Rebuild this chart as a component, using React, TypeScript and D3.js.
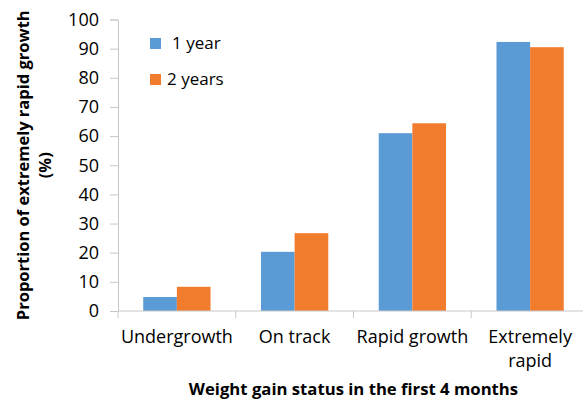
import React, { useEffect, useRef } from 'react';
import * as d3 from 'd3';

const categories = ['Undergrowth', 'On track', 'Rapid growth', 'Extremely rapid'];
const seriesNames = ['1 year', '2 years'];
const oneYear = [4.8, 20.3, 61.0, 92.3];
const twoYears = [8.3, 26.7, 64.4, 90.5];
const yTicks = [0, 10, 20, 30, 40, 50, 60, 70, 80, 90, 100];
const colors = ['#5B9BD5', '#F27C2E'];

const FONT = 'Open Sans, sans-serif';

const App: React.FC = () => {
  const svgRef = useRef<SVGSVGElement | null>(null);

  useEffect(() => {
    const svg = d3.select(svgRef.current!);
    svg.selectAll('*').remove();

    const left = 118;
    const right = 589;
    const top = 19.5;
    const bottom = 311;

    const x = d3.scaleBand<string>().domain(categories).range([left, right]).padding(0);
    const xSub = d3
      .scaleBand<string>()
      .domain(seriesNames)
      .range([0, x.bandwidth()])
      .paddingInner(0)
      .paddingOuter(0.75);
    const y = d3.scaleLinear().domain([0, 100]).range([bottom, top]);

    const rows = categories.map((c, i) => ({ cat: c, vals: [oneYear[i], twoYears[i]] }));

    // bars
    const groups = svg
      .selectAll('g.cat')
      .data(rows)
      .enter()
      .append('g')
      .attr('class', 'cat')
      .attr('transform', (d) => `translate(${x(d.cat)},0)`);

    groups
      .selectAll('rect')
      .data((d) => d.vals.map((v, j) => ({ v, s: seriesNames[j], j })))
      .enter()
      .append('rect')
      .attr('x', (d) => xSub(d.s) as number)
      .attr('y', (d) => y(d.v))
      .attr('width', xSub.bandwidth())
      .attr('height', (d) => bottom - y(d.v))
      .attr('fill', (d) => colors[d.j]);

    // y axis
    const yAxis = d3.axisLeft(y).tickValues(yTicks).tickSize(8).tickPadding(11);
    const yg = svg.append('g').attr('transform', `translate(${left},0)`).call(yAxis);
    yg.select('.domain').attr('stroke', '#c8c8c8');
    yg.selectAll('.tick line').attr('stroke', '#c8c8c8');
    yg.selectAll('.tick text')
      .attr('fill', '#000')
      .style('font-family', FONT)
      .style('font-size', '18px');

    // x axis line and boundary ticks
    svg
      .append('line')
      .attr('x1', left)
      .attr('x2', right)
      .attr('y1', bottom)
      .attr('y2', bottom)
      .attr('stroke', '#c8c8c8');

    const bounds = categories.map((c) => x(c) as number).concat([right]);
    svg
      .selectAll('line.xtick')
      .data(bounds)
      .enter()
      .append('line')
      .attr('class', 'xtick')
      .attr('x1', (d) => d)
      .attr('x2', (d) => d)
      .attr('y1', bottom)
      .attr('y2', bottom + 7)
      .attr('stroke', '#c8c8c8');

    // category labels
    const labelLines: Record<string, string[]> = {
      'Extremely rapid': ['Extremely', 'rapid'],
    };
    const labels = svg
      .selectAll('text.xlab')
      .data(categories)
      .enter()
      .append('text')
      .attr('class', 'xlab')
      .attr('text-anchor', 'middle')
      .attr('y', bottom + 32)
      .style('font-family', FONT)
      .style('font-size', '18px')
      .attr('fill', '#000');
    labels
      .selectAll('tspan')
      .data((d) => (labelLines[d] || [d]).map((t) => ({ t, c: d })))
      .enter()
      .append('tspan')
      .attr('x', (d) => (x(d.c) as number) + x.bandwidth() / 2)
      .attr('dy', (d, i) => (i === 0 ? 0 : 24))
      .text((d) => d.t);

    // axis titles
    svg
      .append('text')
      .attr('x', (left + right) / 2)
      .attr('y', 395)
      .attr('text-anchor', 'middle')
      .style('font-family', FONT)
      .style('font-size', '16.7px')
      .style('font-weight', 'bold')
      .text('Weight gain status in the first 4 months');

    const yt = svg
      .append('text')
      .attr('transform', `translate(0,${(top + bottom) / 2}) rotate(-90)`)
      .attr('text-anchor', 'middle')
      .style('font-family', FONT)
      .style('font-size', '16.5px')
      .style('font-weight', 'bold');
    yt.append('tspan').attr('x', 0).attr('y', 29).text('Proportion of extremely rapid growth');
    yt.append('tspan').attr('x', 0).attr('y', 51).text('(%)');

    // legend
    const legendY = [43, 79];
    const legend = svg
      .selectAll('g.legend')
      .data(seriesNames)
      .enter()
      .append('g')
      .attr('class', 'legend')
      .attr('transform', (d, i) => `translate(150,${legendY[i]})`);
    legend
      .append('rect')
      .attr('x', 0)
      .attr('y', -5)
      .attr('width', 11)
      .attr('height', 11)
      .attr('fill', (d, i) => colors[i]);
    legend
      .append('text')
      .attr('x', (d, i) => (i === 0 ? 22 : 17))
      .attr('y', 6)
      .style('font-family', FONT)
      .style('font-size', '17px')
      .text((d) => d);
  }, []);

  return (
    <svg
      ref={svgRef}
      width={583}
      height={401}
      style={{ position: 'absolute', left: 0, top: 0, background: '#fff' }}
    />
  );
};

export default App;
